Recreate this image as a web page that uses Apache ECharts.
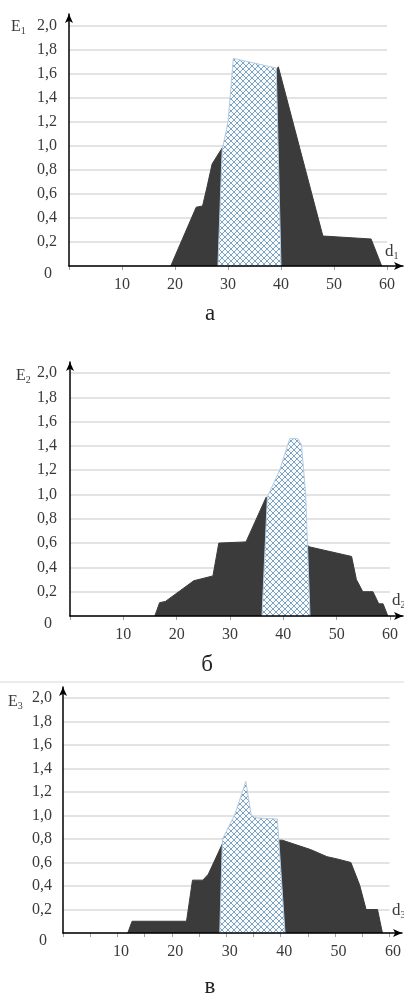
<!DOCTYPE html>
<html>
<head>
<meta charset="utf-8">
<script src="https://cdn.jsdelivr.net/npm/echarts@6/dist/echarts.min.js"></script>
<style>
html,body{margin:0;padding:0;background:#fff;}
#c{width:404px;height:997px;}
</style>
</head>
<body>
<div id="c"></div>
<script>
// ---- data ----
const yLabels = ['0','0,2','0,4','0,6','0,8','1,0','1,2','1,4','1,6','1,8','2,0'];
const xLabels = ['','10','20','30','40','50','60'];
const captions = ['а','б','в'];
const eNames = ['1','2','3'];

const dark1  = [[19.2,0],[24,0.49],[25.2,0.5],[26,0.65],[27,0.85],[28.7,0.97],[39.5,1.66],[47.9,0.25],[57,0.225],[59,0]];
const hatch1 = [[28.1,0],[28.9,0.97],[30,1.2],[31,1.73],[39.1,1.65],[40,0]];

const dark2  = [[15.9,0],[16.8,0.11],[17.9,0.12],[23.2,0.29],[26.8,0.33],[27.9,0.6],[33,0.61],[36.8,0.98],[44.8,0.57],[52.8,0.49],[53.7,0.3],[54.9,0.2],[56.8,0.2],[57.9,0.1],[58.7,0.1],[59.6,0]];
const hatch2 = [[36,0],[37,0.98],[39.3,1.2],[41.2,1.46],[42.7,1.46],[43.4,1.41],[44.2,1.0],[45,0]];

const dark3  = [[11.9,0],[12.7,0.1],[22.7,0.1],[23.8,0.45],[25.7,0.45],[26.7,0.5],[29.5,0.78],[40.3,0.79],[45.5,0.71],[48.5,0.65],[50.4,0.63],[52.9,0.6],[54.5,0.41],[55.7,0.2],[57.8,0.2],[58.7,0]];
const hatch3 = [[28.8,0],[29.3,0.8],[31.5,1.0],[33.6,1.29],[34.6,1.0],[35.5,0.98],[39.4,0.97],[39.7,0.96],[40.8,0]];

const darkSets = [dark1, dark2, dark3];
const hatchSets = [hatch1, hatch2, hatch3];

// ---- styling / layout ----
const FONT = '"Liberation Serif", "Times New Roman", serif';
const TXT = '#3a3a3a';
const FS = 16;
const panels = [
  {left:69, right:17, top:26, bottom:731, aTop:14, aRight:1, tickInt:10, lblPad:[0,0,0,0], yMargin:12},
  {left:70, right:14, top:373, bottom:381, aTop:362, aRight:1, tickInt:10, lblPad:[0,0,0,0], yMargin:13},
  {left:63, right:13, top:698, bottom:64, aTop:687, aRight:2, tickInt:5, lblPad:[0,0,0,7], yMargin:11}
];
const ePos = [[11,19],[16,368],[8,694]];
const dPos = [[385,243],[392,592],[392,902]];
const capPos = [[210,302],[207,653],[210,975]];

function makeHatch(){
  const s = 6;
  const c = document.createElement('canvas');
  c.width = s; c.height = s;
  const g = c.getContext('2d');
  g.fillStyle = '#f8fbfd'; g.fillRect(0,0,s,s);
  g.fillStyle = '#7fa2c0';
  for (let i=0;i<s;i++){ g.fillRect(i,i,1,1); g.fillRect(s-1-i,i,1,1); }
  return c;
}
const hatchImg = makeHatch();

const grid = [], xAxis = [], yAxis = [], series = [], title = [];
panels.forEach((p,i)=>{
  grid.push({left:p.left, right:p.right, top:p.top, bottom:p.bottom});
});
panels.forEach((p,i)=>{
  grid.push({left:p.left, right:p.aRight, top:p.aTop, bottom:p.bottom});
});
panels.forEach((p,i)=>{
  xAxis.push({
    gridIndex:i, type:'value', min:0, max:60, interval:p.tickInt,
    axisLine:{show:false},
    axisTick:{show:true, length:4, lineStyle:{color:'#a0a0a0', width:1}},
    splitLine:{show:false},
    axisLabel:{
      margin:11, fontFamily:FONT, fontSize:FS, color:TXT, padding:p.lblPad,
      formatter:v=> (v%10===0) ? (xLabels[Math.round(v/10)]||'') : ''
    }
  });
  yAxis.push({
    gridIndex:i, type:'value', min:0, max:2, interval:0.2,
    axisLine:{show:false}, axisTick:{show:false},
    splitLine:{show:true, lineStyle:{color:'#dadada', width:1.5}},
    axisLabel:{
      margin:p.yMargin, fontFamily:FONT, fontSize:FS, color:TXT,
      formatter:v=>{ const k=Math.round(v/0.2); return k===0 ? '{z|0}' : yLabels[k]; },
      rich:{z:{fontFamily:FONT, fontSize:FS, color:TXT, padding:[16,5,0,0]}}
    }
  });
});
panels.forEach((p,i)=>{
  xAxis.push({
    gridIndex:3+i, type:'value', min:0, max:1, z:10,
    axisLine:{show:true, lineStyle:{color:'#000', width:1.5}, symbol:['none','arrow'], symbolSize:[6,9]},
    axisTick:{show:false}, axisLabel:{show:false}, splitLine:{show:false}
  });
  yAxis.push({
    gridIndex:3+i, type:'value', min:0, max:1, z:10,
    axisLine:{show:true, lineStyle:{color:'#000', width:1.5}, symbol:['none','arrow'], symbolSize:[6,9]},
    axisTick:{show:false}, axisLabel:{show:false}, splitLine:{show:false}
  });
});
panels.forEach((p,i)=>{
  series.push({
    type:'line', xAxisIndex:i, yAxisIndex:i, data:darkSets[i], showSymbol:false, z:2,
    lineStyle:{color:'#3b3b3b', width:1}, areaStyle:{color:'#3b3b3b', opacity:1, origin:'start'},
    animation:false, silent:true
  });
  series.push({
    type:'line', xAxisIndex:i, yAxisIndex:i, data:hatchSets[i], showSymbol:false, z:3,
    lineStyle:{color:'#b5cde0', width:1}, areaStyle:{color:{image:hatchImg, repeat:'repeat'}, opacity:1, origin:'start'},
    animation:false, silent:true
  });
  title.push({
    text:'{e|E}{s|'+eNames[i]+'}', left:ePos[i][0], top:ePos[i][1], padding:0,
    textStyle:{fontWeight:'normal', rich:{
      e:{fontFamily:FONT, fontSize:16, fontWeight:'normal', color:TXT, lineHeight:16, verticalAlign:'top'},
      s:{fontFamily:FONT, fontSize:10, fontWeight:'normal', color:TXT, lineHeight:10, padding:[7,0,0,0], verticalAlign:'top'}
    }}
  });
  title.push({
    text:'{e|d}{s|'+eNames[i]+'}', left:dPos[i][0], top:dPos[i][1], padding:0,
    textStyle:{fontWeight:'normal', rich:{
      e:{fontFamily:FONT, fontSize:17, fontWeight:'normal', color:TXT, lineHeight:17, verticalAlign:'top'},
      s:{fontFamily:FONT, fontSize:10, fontWeight:'normal', color:TXT, lineHeight:10, padding:[8,0,0,0], verticalAlign:'top'}
    }}
  });
  title.push({
    text:captions[i], left:capPos[i][0], top:capPos[i][1], padding:0, textAlign:'center',
    textStyle:{fontFamily:FONT, fontSize:23, fontWeight:'normal', color:'#222'}
  });
});

const chart = echarts.init(document.getElementById('c'), null, {renderer:'canvas'});
chart.setOption({
  animation:false,
  backgroundColor:'#fff',
  title, grid, xAxis, yAxis, series,
  graphic:[{type:'line', shape:{x1:0,y1:682,x2:404,y2:682}, style:{stroke:'#d8d8d8', lineWidth:1}}]
});
</script>
</body>
</html>
